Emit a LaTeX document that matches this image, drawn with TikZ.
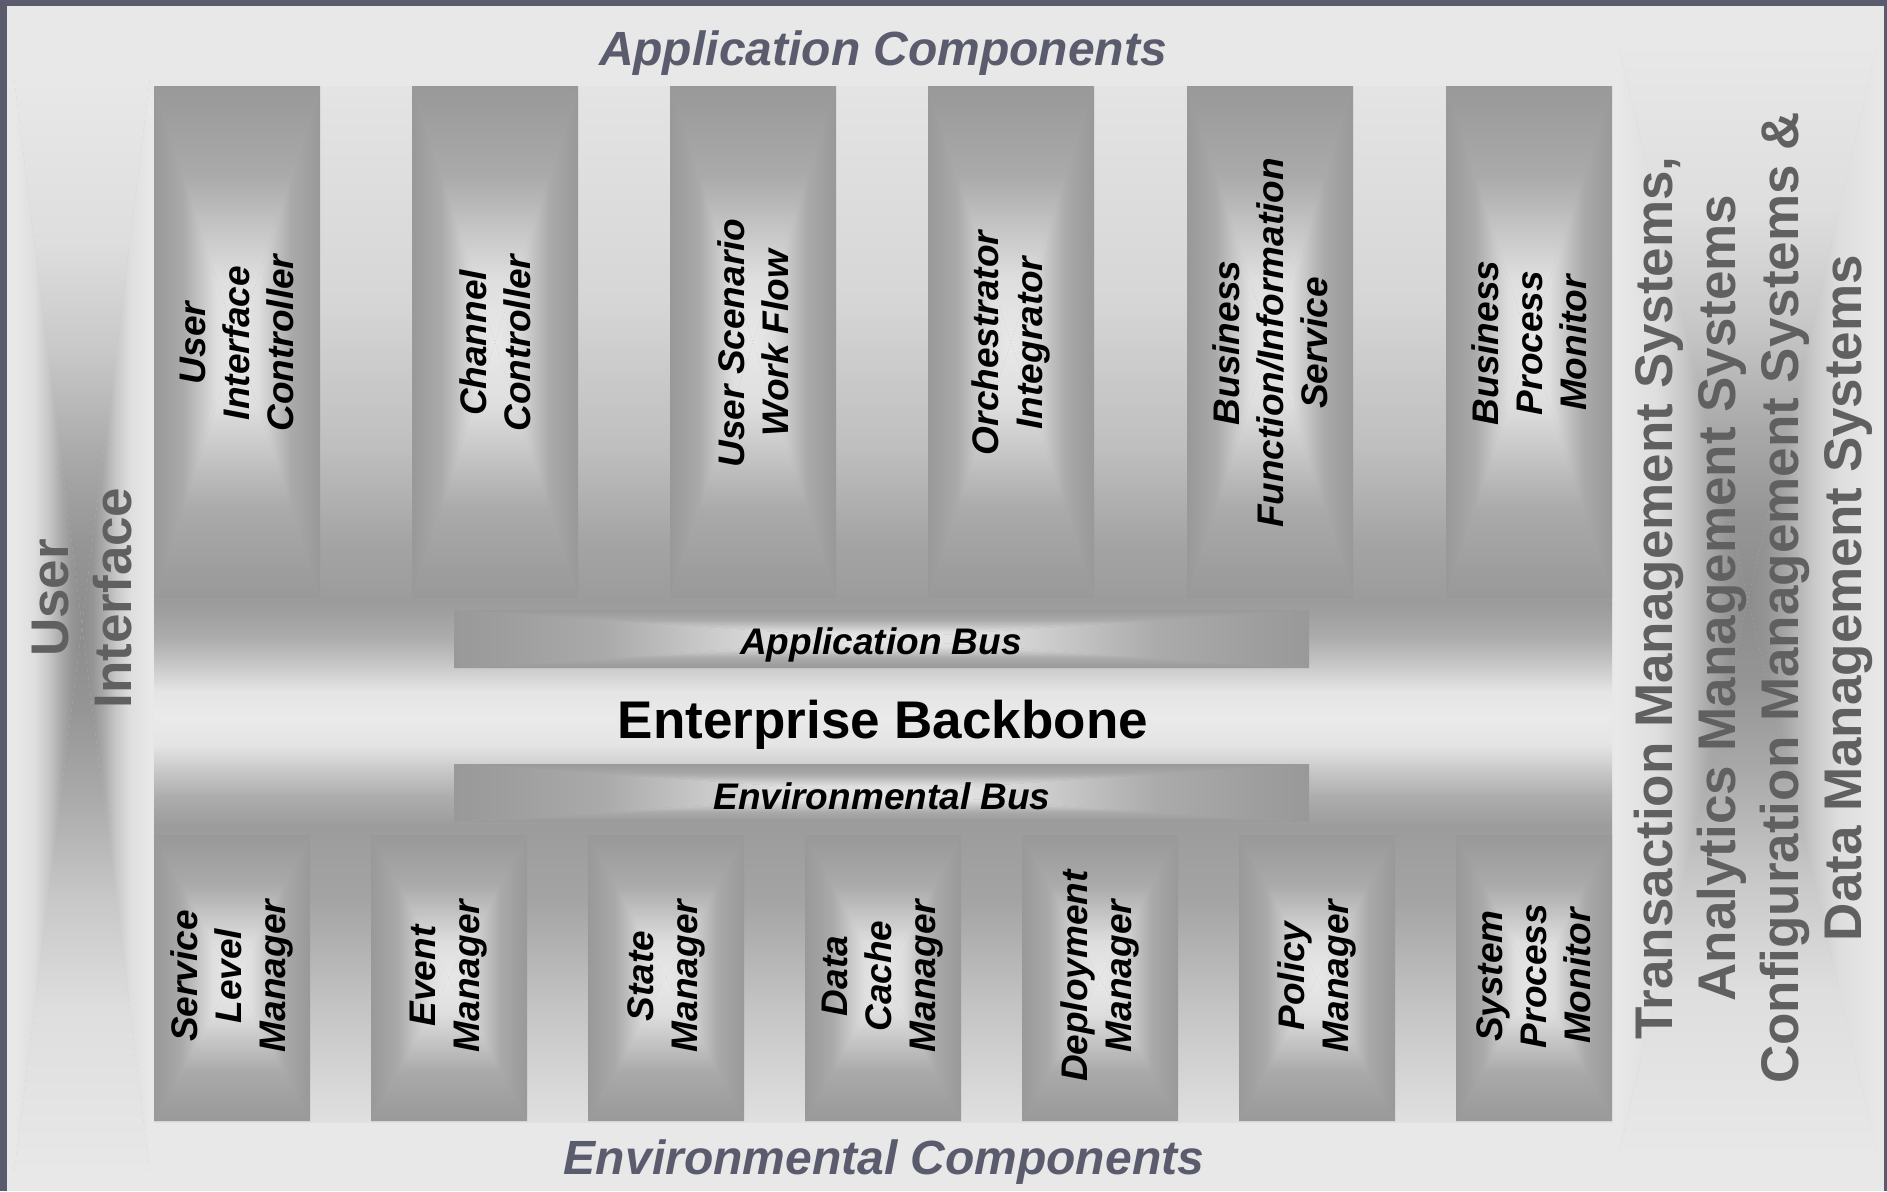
\documentclass[tikz,border=0pt]{standalone}
\usepackage{fontspec}
\setmainfont{Liberation Sans}
\definecolor{framec}{HTML}{5A5C6D}
\definecolor{bgc}{HTML}{E8E8E8}
\definecolor{sidetxt}{HTML}{606060}
\definecolor{ca0}{HTML}{999999}
\definecolor{ca1}{HTML}{9D9D9D}
\definecolor{ca2}{HTML}{AAAAAA}
\definecolor{ca3}{HTML}{C4C4C4}
\definecolor{ca4}{HTML}{DEDEDE}
\definecolor{ca5}{HTML}{E8E8E8}
\definecolor{cp0}{HTML}{E8E8E8}
\definecolor{cp1}{HTML}{DEDEDE}
\definecolor{cp2}{HTML}{C8C8C8}
\definecolor{cp3}{HTML}{A8A8A8}
\definecolor{cp4}{HTML}{959595}
\definecolor{cp5}{HTML}{8C8C8C}
\pgfdeclarehorizontalshading{colL}{100bp}{color(0bp)=(ca0); color(25bp)=(ca0); color(30bp)=(ca1); color(42.5bp)=(ca2); color(52.5bp)=(ca3); color(62.5bp)=(ca4); color(75bp)=(ca5); color(100bp)=(ca5)}
\pgfdeclarehorizontalshading{colR}{100bp}{color(0bp)=(ca5); color(25bp)=(ca5); color(37.5bp)=(ca4); color(47.5bp)=(ca3); color(57.5bp)=(ca2); color(70bp)=(ca1); color(75bp)=(ca0); color(100bp)=(ca0)}
\pgfdeclareverticalshading{colB}{100bp}{color(0bp)=(ca0); color(25bp)=(ca0); color(30bp)=(ca1); color(42.5bp)=(ca2); color(52.5bp)=(ca3); color(62.5bp)=(ca4); color(75bp)=(ca5); color(100bp)=(ca5)}
\pgfdeclareverticalshading{colT}{100bp}{color(0bp)=(ca5); color(25bp)=(ca5); color(37.5bp)=(ca4); color(47.5bp)=(ca3); color(57.5bp)=(ca2); color(70bp)=(ca1); color(75bp)=(ca0); color(100bp)=(ca0)}
\pgfdeclarehorizontalshading{panL}{100bp}{color(0bp)=(cp0); color(25bp)=(cp0); color(40bp)=(cp1); color(50bp)=(cp2); color(60bp)=(cp3); color(67.5bp)=(cp4); color(75bp)=(cp5); color(100bp)=(cp5)}
\pgfdeclarehorizontalshading{panR}{100bp}{color(0bp)=(cp5); color(25bp)=(cp5); color(32.5bp)=(cp4); color(40bp)=(cp3); color(50bp)=(cp2); color(60bp)=(cp1); color(75bp)=(cp0); color(100bp)=(cp0)}
\pgfdeclareverticalshading{panB}{100bp}{color(0bp)=(cp0); color(25bp)=(cp0); color(40bp)=(cp1); color(50bp)=(cp2); color(60bp)=(cp3); color(67.5bp)=(cp4); color(75bp)=(cp5); color(100bp)=(cp5)}
\pgfdeclareverticalshading{panT}{100bp}{color(0bp)=(cp5); color(25bp)=(cp5); color(32.5bp)=(cp4); color(40bp)=(cp3); color(50bp)=(cp2); color(60bp)=(cp1); color(75bp)=(cp0); color(100bp)=(cp0)}
% rectangle path gradient: #1 prefix, #2 x0, #3 y0 (top), #4 x1, #5 y1 (bottom)
\newcommand\rgbox[5]{%
  \pgfmathsetmacro\rgcx{(#2+#4)/2}%
  \pgfmathsetmacro\rgcy{(#3+#5)/2}%
  \shade[shading=#1L] (#2,#3) -- (\rgcx,\rgcy) -- (#2,#5) -- cycle;
  \shade[shading=#1R] (#4,#3) -- (\rgcx,\rgcy) -- (#4,#5) -- cycle;
  \shade[shading=#1T] (#2,#3) -- (\rgcx,\rgcy) -- (#4,#3) -- cycle;
  \shade[shading=#1B] (#2,#5) -- (\rgcx,\rgcy) -- (#4,#5) -- cycle;
}
\begin{document}
\begin{tikzpicture}[x=0.5pt,y=-0.5pt,
  coltext/.style={rotate=90, align=center, font=\bfseries\itshape\fontsize{18.5}{22}\selectfont, text=black, inner sep=0pt},
  sidetext/.style={rotate=90, align=center, font=\bfseries\fontsize{26.5}{31.5}\selectfont, text=sidetxt, inner sep=0pt},
  header/.style={font=\bfseries\itshape\fontsize{24}{28}\selectfont, text=framec, inner sep=0pt},
  bustext/.style={font=\bfseries\itshape\fontsize{18.5}{22}\selectfont, text=black, inner sep=0pt},
  bbtext/.style={font=\bfseries\fontsize{26.5}{30}\selectfont, text=black, inner sep=0pt}]
\useasboundingbox (0,0) rectangle (1887,1191);
\fill[bgc] (0,0) rectangle (1887,1191);
% enterprise backbone (vertical profile)
\foreach \ya/\yb/\ga/\gb in {86/300/89.4/83.9, 300/450/83.9/74.5, 450/540/74.5/64.5, 540/603/64.5/60.8,
  603/640/60.8/68.2, 640/665/68.2/78.4, 665/690/78.4/89.4, 690/717/89.4/91.8, 717/745/91.8/89.4,
  745/770/89.4/78.4, 770/795/78.4/68.2, 795/825/68.2/61.2, 825/900/61.2/64.3, 900/1000/64.3/76.1,
  1000/1121/76.1/87.8}
  {\shade[top color=white!\ga!black, bottom color=white!\gb!black] (154,\ya) rectangle (1612,\yb+1);}
% side panels
\fill[cp2] (14,78) rectangle (150,1173);
\rgbox{pan}{14}{78}{150}{1173}
\fill[cp2] (1618,42) rectangle (1878,1157);
\rgbox{pan}{1618}{42}{1878}{1157}
% application columns
\foreach \xa in {154,412,670,928,1187,1446}{
  \fill[ca2] (\xa,86) rectangle (\xa+166,598);
  \rgbox{col}{\xa}{86}{\xa+166}{598}
}
% environmental columns
\foreach \xa in {154,371,588,805,1022,1239,1456}{
  \fill[ca2] (\xa,835) rectangle (\xa+156,1121);
  \rgbox{col}{\xa}{835}{\xa+156}{1121}
}
% buses
\fill[ca2] (454,610) rectangle (1309,668);
\rgbox{col}{454}{610}{1309}{668}
\fill[ca2] (454,764) rectangle (1309,822);
\rgbox{col}{454}{764}{1309}{822}
% texts
\node[header] (apphdr) at (883,53) {Application Components};
\node[header] (envhdr) at (884,1162) {Environmental Components};
\node[bbtext] (bb) at (883,725) {Enterprise Backbone};
\node[bustext] (appbus) at (881,645) {Application Bus};
\node[bustext] (envbus) at (882,796) {Environmental Bus};
\node[sidetext] (ui) at (82,598) {User\\Interface};
\node[sidetext] (mgmt) at (1753,598) {Transaction Management Systems,\\Analytics Management Systems\\Configuration Management Systems \&\\Data Management Systems};
\node[coltext] (a1) at (237,343) {User\\Interface\\Controller};
\node[coltext] (a2) at (495,343) {Channel\\Controller};
\node[coltext] (a3) at (753,343) {User Scenario\\Work Flow};
\node[coltext] (a4) at (1011,343) {Orchestrator\\Integrator};
\node[coltext] (a5) at (1270,343) {Business\\Function/Information\\Service};
\node[coltext] (a6) at (1529,343) {Business\\Process\\Monitor};
\node[coltext] (e1) at (232,976) {Service\\Level\\Manager};
\node[coltext] (e2) at (449,976) {Event\\Manager};
\node[coltext] (e3) at (666,976) {State\\Manager};
\node[coltext] (e4) at (883,976) {Data\\Cache\\Manager};
\node[coltext] (e5) at (1100,976) {Deployment\\Manager};
\node[coltext] (e6) at (1317,976) {Policy\\Manager};
\node[coltext] (e7) at (1534,976) {System\\Process\\Monitor};
% frame
\fill[framec] (0,0) rectangle (1887,6);
\fill[framec] (0,0) rectangle (7,1191);
\fill[framec] (1884,0) rectangle (1887,1191);
\end{tikzpicture}
\end{document}
